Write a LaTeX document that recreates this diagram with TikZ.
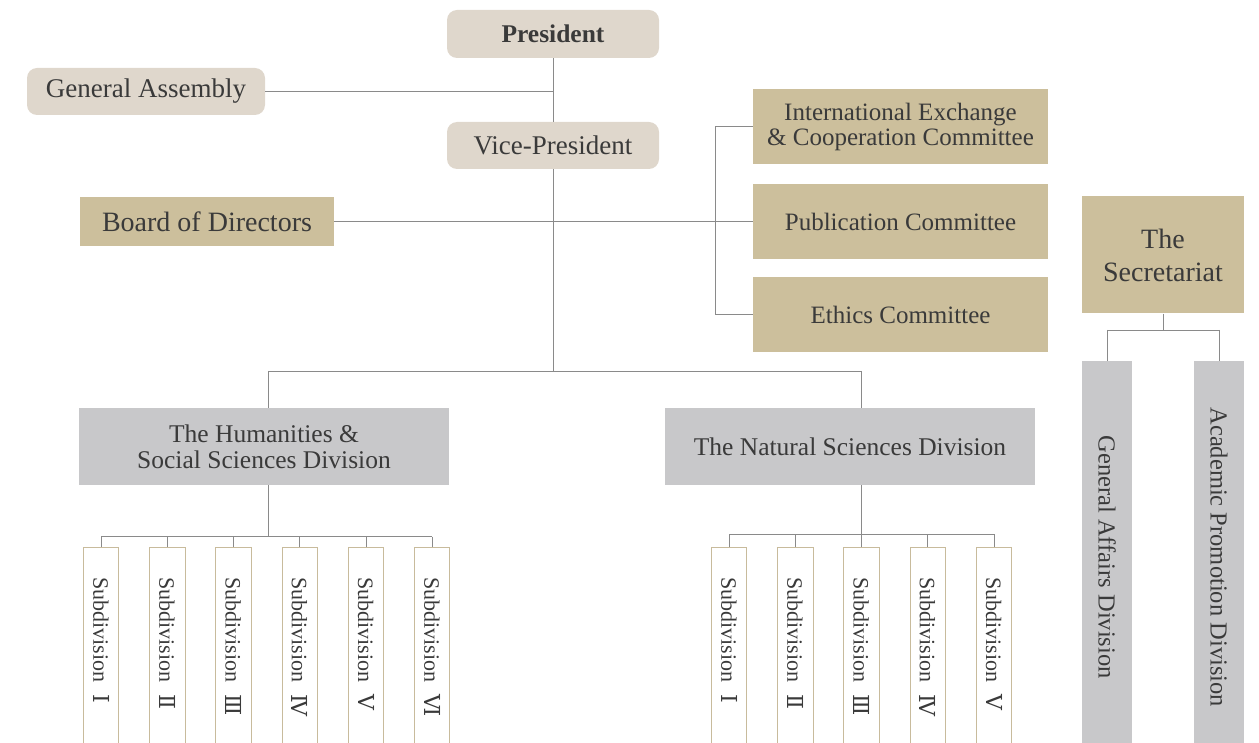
\documentclass[tikz,border=0pt]{standalone}
\usepackage{fontspec}
\setmainfont{Liberation Serif}
\newfontfamily\numfont{DejaVu Serif}
\definecolor{lightc}{HTML}{DFD7CC}
\definecolor{tanc}{HTML}{CCBF9C}
\definecolor{grayc}{HTML}{C8C8CA}
\definecolor{linec}{HTML}{8A8A8A}
\definecolor{txtc}{HTML}{3A3A3A}
\definecolor{subb}{HTML}{C8BB9C}
\tikzset{
  base/.style={text=txtc, inner sep=0pt, align=center},
  lightbox/.style={base, fill=lightc, rounded corners=10pt, font=\fontsize{27}{30}\selectfont},
  tanbox/.style={base, fill=tanc, font=\fontsize{25}{26}\selectfont},
  graybox/.style={base, fill=grayc, font=\fontsize{25.5}{26}\selectfont},
  subbox/.style={base, draw=subb, line width=0.9pt, fill=white, rotate=-90, anchor=west,
     minimum width=220pt, minimum height=35.4pt, text width=160pt, inner xsep=30pt, align=left,
     font=\fontsize{22}{24}\selectfont},
  secbox/.style={base, fill=grayc, rotate=-90, anchor=west, minimum width=392pt, minimum height=50.3pt,
     font=\fontsize{24.5}{26}\selectfont},
  conn/.style={draw=linec, line width=0.9pt},
}
\newcommand{\subd}[1]{Subdivision\hspace{12pt}{\numfont #1}}
\begin{document}
\begin{tikzpicture}[x=1pt,y=-1pt]
\useasboundingbox (0,0) rectangle (1259,743);
\clip (0,0) rectangle (1259,743);

% top level
\node[lightbox, minimum width=212pt, minimum height=48pt, font=\fontsize{25.5}{28}\selectfont\bfseries] (pres) at (553,34) {President};
\node[lightbox, minimum width=238pt, minimum height=47pt] (ga) at (146,91.5) {General Assembly};
\node[lightbox, minimum width=212pt, minimum height=47pt] (vp) at (553,145.5) {Vice-President};
\node[tanbox, minimum width=254pt, minimum height=49pt, font=\fontsize{28}{30}\selectfont] (bod) at (207,221.5) {Board of Directors};

% committees
\node[tanbox, minimum width=295pt, minimum height=75pt] (iec) at (900.5,126.5) {International Exchange\\[-1pt]\& Cooperation Committee};
\node[tanbox, minimum width=295pt, minimum height=75pt] (pub) at (900.5,221.5) {Publication Committee};
\node[tanbox, minimum width=295pt, minimum height=75pt] (eth) at (900.5,314.5) {Ethics Committee};

% secretariat
\node[tanbox, minimum width=162pt, minimum height=117pt, font=\fontsize{28}{33}\selectfont] (sec) at (1163,255) {The\\Secretariat};
\node[secbox] (gad) at (1107,361) {General Affairs Division};
\node[secbox] (apd) at (1219,361) {Academic Promotion Division};

% divisions
\node[graybox, minimum width=370pt, minimum height=77pt] (hum) at (264,446.5) {The Humanities \&\\Social Sciences Division};
\node[graybox, minimum width=370pt, minimum height=77pt] (nat) at (850,446.5) {The Natural Sciences Division};

% subdivisions
\node[subbox] (h1) at (101.2,547) {\subd{Ⅰ}};
\node[subbox] (h2) at (167.4,547) {\subd{Ⅱ}};
\node[subbox] (h3) at (233.6,547) {\subd{Ⅲ}};
\node[subbox] (h4) at (299.8,547) {\subd{Ⅳ}};
\node[subbox] (h5) at (366.0,547) {\subd{Ⅴ}};
\node[subbox] (h6) at (432.2,547) {\subd{Ⅵ}};
\node[subbox] (n1) at (729.2,547) {\subd{Ⅰ}};
\node[subbox] (n2) at (795.4,547) {\subd{Ⅱ}};
\node[subbox] (n3) at (861.6,547) {\subd{Ⅲ}};
\node[subbox] (n4) at (927.8,547) {\subd{Ⅳ}};
\node[subbox] (n5) at (994.0,547) {\subd{Ⅴ}};

% junction coordinates
\coordinate (vj) at (553,371);
\coordinate (hj) at (268,371);
\coordinate (nj) at (861.6,371);
\coordinate (cb) at (715,222);
\coordinate (hs) at (268,536.7);
\coordinate (ns) at (861.6,534.3);
\coordinate (sj) at (1163,330);

% connectors
\draw[conn] (pres.south) -- (vp.north);
\draw[conn] (ga.east) -- (ga.east -| pres.south);
\draw[conn] (vp.south) -- (vj);
\draw[conn] (hj) -- (nj);
\draw[conn] (hj) -- (hj |- hum.north);
\draw[conn] (nj) -- (nj |- nat.north);
\draw[conn] (bod.east) -- (pub.west);
\draw[conn] (iec.west) -- (iec.west -| cb) -- (eth.west -| cb) -- (eth.west);

\draw[conn] (hs |- hum.south) -- (hs);
\draw[conn] (h1.west |- hs) -- (h6.west |- hs);
\foreach \n in {h1,h2,h3,h4,h5,h6} \draw[conn] (\n.west |- hs) -- (\n.west);
\draw[conn] (ns |- nat.south) -- (ns);
\draw[conn] (n1.west |- ns) -- (n5.west |- ns);
\foreach \n in {n1,n2,n3,n4,n5} \draw[conn] (\n.west |- ns) -- (\n.west);

\draw[conn] (sec.south) -- (sj);
\draw[conn] (gad.west |- sj) -- (apd.west |- sj);
\draw[conn] (gad.west |- sj) -- (gad.west);
\draw[conn] (apd.west |- sj) -- (apd.west);
\end{tikzpicture}
\end{document}
